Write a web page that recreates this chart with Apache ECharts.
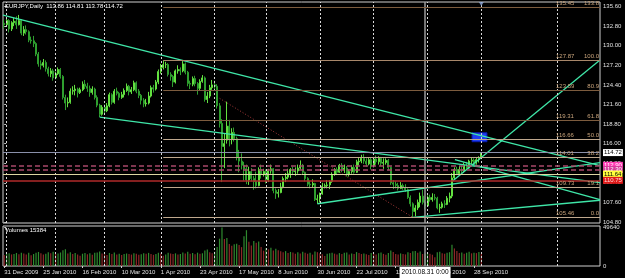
<!DOCTYPE html>
<html><head><meta charset="utf-8">
<script src="https://cdn.jsdelivr.net/npm/echarts@6/dist/echarts.min.js"></script>
<style>html,body{margin:0;padding:0;background:#000}#c{width:625px;height:278px}</style>
</head><body><div id="c"></div>
<script>
const symbolName = 'EURJPY,Daily';
const dateLabels = ['31 Dec 2009','25 Jan 2010','16 Feb 2010','10 Mar 2010','1 Apr 2010','23 Apr 2010','17 May 2010','8 Jun 2010','30 Jun 2010','22 Jul 2010','13 Aug 2010','6 Sep 2010','28 Sep 2010'];
const dateLabelIdx = [0,16,32,48,64,80,96,112,128,144,160,176,192];
// [open, close, low, high] per daily bar, 31 Dec 2009 .. 1 Oct 2010
const ohlc = [
[133.2,133.0,132.5,133.7],[133.0,133.6,132.7,133.9],[133.6,132.4,131.9,133.8],[132.4,133.3,132.1,133.5],[133.3,133.5,132.8,134.0],
[133.5,133.0,132.4,134.2],[133.0,133.6,132.9,134.4],[133.6,131.8,131.5,133.8],[131.8,132.3,131.4,132.8],[132.3,132.0,131.6,132.9],
[132.0,130.8,130.5,132.2],[130.8,130.7,130.3,131.3],[130.7,130.3,129.8,131.4],[130.3,128.8,128.5,130.5],[128.8,127.4,127.0,129.1],
[127.4,127.2,126.6,127.9],[127.2,127.6,126.9,128.1],[127.6,126.7,126.3,127.9],[126.7,126.0,125.6,127.0],[126.0,126.4,125.5,126.8],
[126.4,125.4,125.0,126.7],[125.4,126.0,125.2,126.3],[126.0,126.6,125.8,126.9],[126.6,125.6,125.3,126.8],[125.6,122.6,122.3,125.8],
[122.6,121.8,120.8,123.0],[121.8,121.9,121.2,122.6],[121.9,123.5,121.7,123.9],[123.5,123.6,123.0,124.2],[123.6,123.8,122.9,124.4],
[123.8,123.3,122.6,124.0],[123.3,123.7,123.1,124.0],[123.7,124.5,123.5,124.9],[124.5,124.2,123.8,125.1],[124.2,123.9,123.4,124.7],
[123.9,123.3,122.7,124.3],[123.3,123.8,123.0,124.2],[123.8,122.6,122.3,124.0],[122.6,121.5,121.2,122.9],[121.5,120.2,119.8,121.7],
[120.2,121.2,120.0,121.5],[121.2,120.7,120.3,121.6],[120.7,121.4,120.5,121.8],[121.4,123.0,121.2,123.3],[123.0,121.9,121.6,123.2],
[121.9,123.5,121.7,123.8],[123.5,123.2,122.9,124.0],[123.2,122.6,122.2,123.4],[122.6,123.0,122.4,123.4],[123.0,123.6,122.6,123.9],
[123.6,124.2,123.4,124.6],[124.2,123.4,122.9,124.4],[123.4,123.7,123.1,124.1],[123.7,124.7,123.5,125.0],[124.7,123.5,123.2,124.9],
[123.5,122.9,122.5,123.8],[122.9,122.2,121.6,123.1],[122.2,121.7,121.2,122.5],[121.7,121.8,121.3,122.4],[121.8,122.8,121.6,123.4],
[122.8,124.0,122.6,124.3],[124.0,123.8,123.3,124.4],[123.8,124.8,123.6,125.1],[124.8,126.3,124.5,126.6],[126.3,126.9,126.0,127.4],
[126.9,127.3,126.6,127.87],[127.3,127.3,126.8,127.7],[127.3,125.9,125.6,127.5],[125.9,125.6,125.0,126.2],[125.6,124.8,124.1,125.8],
[124.8,126.4,124.6,126.6],[126.4,126.6,126.0,127.2],[126.6,126.4,125.8,126.9],[126.4,127.4,126.2,127.8],[127.4,126.2,125.9,127.6],
[126.2,124.6,124.2,126.4],[124.6,124.5,123.8,125.0],[124.5,125.3,124.2,125.6],[125.3,124.6,124.2,125.7],[124.6,123.9,123.0,124.8],
[123.9,124.9,123.6,125.2],[124.9,125.4,124.7,125.8],[125.4,122.3,122.0,125.6],[122.3,122.8,121.8,123.4],[122.8,124.0,122.5,124.4],
[124.0,124.4,123.7,125.1],[124.4,124.2,123.7,125.0],[124.2,121.4,121.0,124.5],[121.4,118.9,118.3,121.8],[118.9,115.6,110.5,119.5],
[115.6,116.0,112.5,117.4],[116.5,118.5,116.0,122.0],[118.5,116.6,115.6,119.4],[116.6,117.6,115.9,118.2],[117.6,116.7,116.3,118.3],
[116.7,114.0,113.6,117.0],[114.0,113.5,111.9,115.1],[113.5,112.9,112.3,114.6],[112.9,112.4,110.7,113.4],[112.4,110.8,110.2,113.0],
[110.8,112.0,110.1,112.7],[112.0,111.0,110.6,112.5],[111.0,110.6,109.4,111.4],[110.6,110.0,109.6,112.0],[110.0,112.3,109.9,112.6],
[112.3,111.6,111.0,113.0],[111.6,112.0,111.3,112.4],[112.0,110.8,110.3,112.3],[110.8,112.1,110.5,112.4],[112.1,112.4,111.7,113.0],
[112.4,109.3,108.9,112.5],[109.3,108.9,108.1,109.6],[108.9,109.0,108.3,109.5],[109.0,109.8,108.9,110.4],[109.8,111.0,109.6,111.3],
[111.0,111.2,110.5,111.8],[111.2,111.7,110.9,112.4],[111.7,112.3,111.1,112.5],[112.3,112.0,111.5,112.7],[112.0,112.1,111.4,112.6],
[112.1,112.5,111.7,113.0],[112.5,112.9,112.3,113.6],[112.9,111.9,111.6,113.1],[111.9,111.0,110.6,112.0],[111.0,110.2,109.9,111.2],
[110.2,110.1,109.6,110.7],[110.1,110.3,109.7,110.9],[110.3,108.0,107.8,110.4],[108.0,108.1,107.4,108.7],[108.1,108.8,107.6,109.0],
[108.8,109.9,108.7,110.4],[109.9,110.0,109.6,110.3],[110.0,110.1,109.6,110.8],[110.1,110.6,109.5,110.8],[110.6,111.6,110.4,111.9],
[111.6,112.3,111.4,112.5],[112.3,111.9,111.5,112.6],[111.9,112.9,111.8,113.1],[112.9,112.3,111.9,113.2],[112.3,112.5,111.8,113.0],
[112.5,111.6,111.3,112.8],[111.6,112.0,111.3,112.3],[112.0,112.6,111.7,112.9],[112.6,111.9,111.7,113.0],[111.9,113.4,111.8,113.7],
[113.4,113.5,112.9,114.0],[113.5,113.9,113.2,114.4],[113.9,113.5,113.1,114.5],[113.5,113.1,112.7,113.9],[113.1,113.7,112.9,114.0],
[113.7,112.8,112.3,114.0],[112.8,113.8,112.6,114.1],[113.8,113.4,113.0,114.3],[113.4,113.9,113.0,114.2],[113.9,113.2,112.8,114.1],
[113.2,113.3,112.4,113.9],[113.3,113.6,113.0,113.9],[113.6,112.6,112.2,113.8],[112.6,110.4,110.1,112.7],[110.4,110.2,109.5,110.8],
[110.2,110.0,109.6,110.6],[110.0,109.6,109.3,110.4],[109.6,110.0,109.5,110.5],[110.0,109.7,109.4,110.3],[109.7,109.4,109.1,110.2],
[109.4,108.3,108.1,109.6],[108.3,107.4,107.0,108.6],[107.4,106.3,105.46,107.6],[106.3,106.8,105.6,107.2],[106.8,107.6,106.5,108.0],
[107.6,108.5,106.9,109.0],[108.5,107.6,107.3,109.4],[107.6,107.1,106.6,107.9],[107.1,108.3,107.0,108.6],[108.3,108.0,107.7,108.7],
[108.0,108.3,107.7,108.9],[108.3,108.2,107.9,108.8],[108.2,106.8,106.6,108.4],[106.8,106.9,106.1,107.4],[106.9,107.4,106.7,107.7],
[107.4,107.3,106.8,107.9],[107.3,108.2,107.2,108.5],[108.2,108.5,107.6,109.0],[108.5,111.1,108.2,111.8],[111.1,112.3,110.9,112.6],
[112.3,111.7,111.5,112.7],[111.7,112.3,111.6,112.8],[112.3,112.1,111.8,112.9],[112.1,112.9,111.9,113.3],[112.9,112.5,112.2,113.4],
[112.5,113.5,112.4,113.7],[113.5,113.6,113.1,114.0],[113.6,113.2,112.8,113.9],[113.2,113.7,113.0,114.0],[113.7,113.86,113.3,114.2],
[113.86,114.72,113.78,114.81]
];
const volumes = [
14200,15800,16300,14900,15600,16800,15200,17100,16000,14800,16900,13800,15400,17200,18100,16300,14700,15900,17600,16400,
18200,15300,16100,17400,20300,21500,16200,17800,15400,16600,14900,13200,15800,16700,15100,16400,14600,16900,17300,18800,
16100,15200,14300,16800,15600,17400,14800,15900,14200,15300,16100,15500,14700,16300,15900,14600,15200,16400,15800,16900,
15600,14400,15300,17100,16200,13100,14900,17200,16100,15400,16300,14900,15600,17400,16200,18300,15800,16600,15100,17200,
15900,16400,19800,21200,17600,16300,18400,24600,35200,49640,34800,36100,28400,26200,27900,28600,27100,24300,38200,46100,
31200,26400,32100,29800,31500,24600,19700,22800,21400,23600,19900,22100,20400,18900,17600,19200,16800,18100,17300,15900,
17700,16200,18400,17100,15800,16900,14700,18600,17800,16300,15200,12900,15700,16400,17200,15900,14800,16600,15300,16900,
17400,14900,16100,15600,17900,16800,15400,16200,15100,14300,16600,15800,14700,16500,17300,15600,14400,16700,19800,17900,
15600,14800,16200,15400,14900,17600,16800,18900,19400,17200,18600,15300,16100,17400,15900,14600,11200,17800,18300,16400,
15700,16900,17800,27300,22600,19400,16800,17500,15900,17200,18400,16300,17100,16600,17900,15384
];
const priceTicks = [104.8,107.6,110.4,113.2,116.0,118.8,121.6,124.4,127.2,130.0,132.8,135.6];
const volumeTicks = [0, 49640];
const fibStartIdx = 65;
const fibPrices = [135.45,127.87,123.59,119.31,116.66,114.01,109.73,105.46];
const fibLevels = ['133.8','100.0','80.9','61.8','50.0','38.2','19.1','0.0'];
const levelPrices = [114.72,112.90,112.30,111.64,110.75];
const trendLines = [
  [[-0.5,134.39],[243.5,112.85]],
  [[39,119.8],[243.5,110.42]],
  [[128,107.4],[243.5,113.28]],
  [[167,105.46],[243.5,107.9]],
  [[183.4,110.7],[243.5,127.97]],
  [[184.2,113.7],[243.5,108.0]]
];
const fibBaseLine = [[87,122.7],[167,105.46]];
const blueBox = [[191.2,117.55],[197.3,116.27]];
const gridIdx = [1,21,41,64,86,107,129,151,173,195,226];
const cursorIdx = 172;
const cursorLabel = '2010.08.31 0:00';

// ---- styles ----
const FONT = "'Liberation Sans', Arial, sans-serif";
const FS = 6;
const X_MIN = -0.5, X_MAX = 243.5;
const fibColors = ['#7d5c3e','#a8876a','#7d5c3e','#7d5c3e','#bfa88e','#bfa88e','#bfa88e','#bfa88e'];
const levelStyles = [
  {line:{color:'#8a90aa',width:1,type:'solid'}, bg:'#ffffff', fg:'#000000'},
  {line:{color:'#a8486a',width:1.5,type:[5,3]}, bg:'#ff3cb4', fg:'#ffffff'},
  {line:{color:'#a8486a',width:1.5,type:[5,3]}, bg:'#d83c9c', fg:'#ffffff'},
  {line:{color:'#ddd6a2',width:1,type:'solid'}, bg:'#ffff3c', fg:'#000000'},
  {line:{color:'#b02a2a',width:1.5,type:'solid'}, bg:'#e01a1a', fg:'#ffd8d8'}
];

const last = ohlc[ohlc.length - 1];
const chart = echarts.init(document.getElementById('c'), null, {renderer:'canvas'});

const fibMarks = fibPrices.map((p, k) => [
  {coord:[fibStartIdx, p], lineStyle:{color:fibColors[k], width:1, type:'solid'},
   label:{show:true, position:'insideEndTop', distance:1,
     formatter:'{a|' + p.toFixed(2) + '}{b|' + fibLevels[k] + '}',
     rich:{a:{width:30, align:'left', color:'#c9a47c', fontSize:FS, fontFamily:FONT},
           b:{width:13, align:'right', color:'#c9a47c', fontSize:FS, fontFamily:FONT}}}},
  {coord:[X_MAX, p]}
]);
const levelMarks = levelPrices.map((p, k) => ({
  yAxis:p, lineStyle:levelStyles[k].line,
  label:{show:true, position:'end', distance:3, formatter:p.toFixed(2),
    backgroundColor:levelStyles[k].bg, color:levelStyles[k].fg, fontSize:FS, fontFamily:FONT, padding:[1,1,0,1]}
}));
const gridMarks = (withLabel) => gridIdx.map(v => ({xAxis:v})).concat([{
  xAxis:cursorIdx, lineStyle:{color:'#9c9c9c', type:'solid', width:1.5},
  label: withLabel ? {show:true, position:'start', distance:1, formatter:cursorLabel,
    backgroundColor:'#ffffff', color:'#000', fontSize:6.5, fontFamily:FONT, padding:[2,2,2,2]} : {show:false}
}]);

const option = {
  backgroundColor:'#000000',
  animation:false,
  title:[
    {text: symbolName + '  ' + last[0].toFixed(2) + ' ' + last[3].toFixed(2) + ' ' + last[2].toFixed(2) + ' ' + last[1].toFixed(2),
     left:5, top:3, padding:0, textStyle:{color:'#ffffff', fontSize:FS, fontWeight:'normal', fontFamily:FONT}},
    {text:'Volumes ' + volumes[volumes.length - 1], left:5, top:227, padding:0,
     textStyle:{color:'#ffffff', fontSize:FS, fontWeight:'normal', fontFamily:FONT}}
  ],
  grid:[
    {left:3, right:25, top:2, height:221, show:true, borderColor:'#cfcfcf', borderWidth:1},
    {left:3, right:25, top:226, height:40, show:true, borderColor:'#cfcfcf', borderWidth:1}
  ],
  xAxis:[
    {gridIndex:0, type:'value', min:X_MIN, max:X_MAX, show:false},
    {gridIndex:1, type:'value', min:X_MIN, max:X_MAX,
     axisLine:{show:false}, splitLine:{show:false},
     axisTick:{show:true, customValues:dateLabelIdx, length:2, lineStyle:{color:'#cccccc'}},
     axisLabel:{customValues:dateLabelIdx, formatter:v => dateLabels[dateLabelIdx.indexOf(Math.round(v))] || '',
       align:'left', color:'#e0e0e0', fontSize:FS, fontFamily:FONT, margin:3}}
  ],
  yAxis:[
    {gridIndex:0, type:'value', position:'right', min:104.65, max:136.25,
     axisLine:{show:false}, splitLine:{show:false},
     axisTick:{show:true, customValues:priceTicks, length:2, lineStyle:{color:'#cccccc'}},
     axisLabel:{customValues:priceTicks, formatter:v => v.toFixed(2), color:'#e0e0e0', fontSize:FS, fontFamily:FONT, margin:3}},
    {gridIndex:1, type:'value', position:'right', min:0, max:51500,
     axisLine:{show:false}, splitLine:{show:false},
     axisTick:{show:true, customValues:volumeTicks, length:2, lineStyle:{color:'#cccccc'}},
     axisLabel:{customValues:volumeTicks, formatter:v => String(v), color:'#e0e0e0', fontSize:FS, fontFamily:FONT, margin:3}}
  ],
  series:[
    {name:'gridPrice', type:'line', xAxisIndex:0, yAxisIndex:0, z:1, silent:true,
     data:[[gridIdx[0], ohlc[0][1]]], showSymbol:false, symbol:'none', lineStyle:{opacity:0},
     markLine:{silent:true, symbol:['none','none'], animation:false, label:{show:false},
       lineStyle:{color:'#d8d8d8', type:[2,2], width:1}, data:gridMarks(false)}},
    {name:'price', type:'candlestick', xAxisIndex:0, yAxisIndex:0, z:3,
     data:ohlc.map((d, i) => [i, d[0], d[1], d[2], d[3]]),
     encode:{x:0, y:[1,2,3,4]}, barWidth:1.5,
     itemStyle:{color:'#63e040', color0:'#2f9f2f', borderColor:'#63e040', borderColor0:'#2f9f2f', borderWidth:1}},
    {name:'fibBase', type:'line', xAxisIndex:0, yAxisIndex:0, z:2, silent:true,
     data:fibBaseLine, showSymbol:false, symbol:'none',
     lineStyle:{color:'#a83a3a', type:[1,2], width:1},
     markLine:{silent:true, symbol:['none','none'], animation:false, data:fibMarks.concat(levelMarks)}},
    ...trendLines.map((seg, k) => ({
      name:'trend' + k, type:'line', xAxisIndex:0, yAxisIndex:0, z:4, silent:true,
      data:seg, showSymbol:false, symbol:'none',
      lineStyle:{color:'#3fe6a8', width:1.3},
      markArea: k === 0 ? {silent:true, itemStyle:{color:'#1f3ef0', borderColor:'#0a1ab0', borderWidth:1},
        data:[[{coord:blueBox[0]}, {coord:blueBox[1]}]]} : undefined
    })),
    {name:'marker', type:'scatter', xAxisIndex:0, yAxisIndex:0, z:5, silent:true,
     data:[[ohlc.length - 1, 135.95]], symbol:'triangle', symbolRotate:180, symbolSize:[5,4],
     itemStyle:{color:'#8fa8d8'}},
    {name:'volume', type:'bar', xAxisIndex:1, yAxisIndex:1, z:3, barWidth:1.2,
     data:volumes.map((v, i) => ({value:[i, v],
       itemStyle:{color: (i > 0 && v > volumes[i - 1]) ? '#2f8a2f' : '#8c2828'}})),
     markLine:{silent:true, symbol:['none','none'], animation:false, label:{show:false},
       lineStyle:{color:'#d8d8d8', type:[2,2], width:1}, data:gridMarks(true)}}
  ]
};
chart.setOption(option);
</script>
</body></html>
